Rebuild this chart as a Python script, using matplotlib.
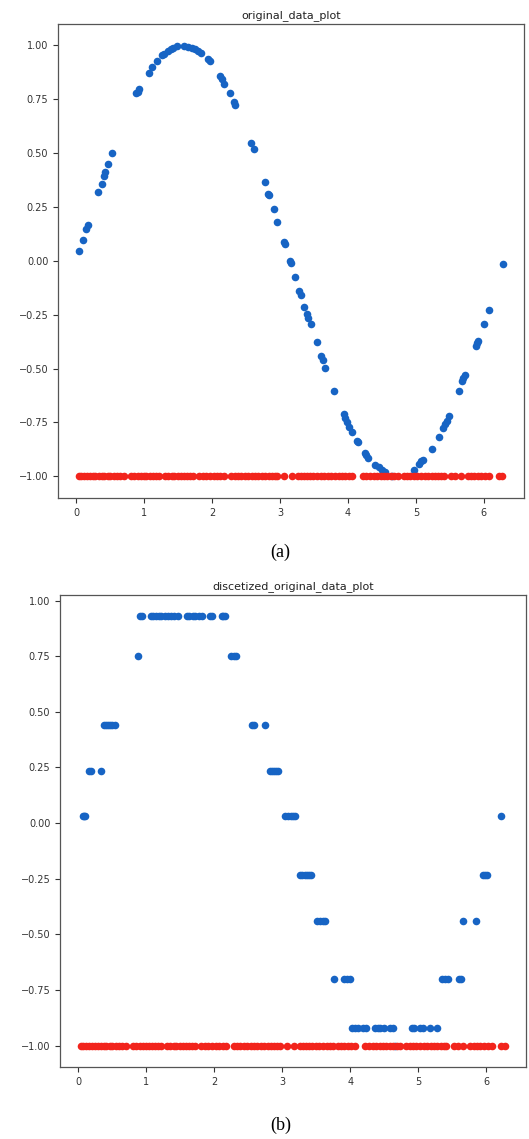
import matplotlib.pyplot as plt

# (a) original data: x and y
orig_x = [0.044, 0.094, 0.147, 0.172, 0.324, 0.374, 0.408, 0.427, 0.462, 0.53,
          0.879, 0.9, 0.928, 1.066, 1.115, 1.184, 1.267, 1.287, 1.355, 1.39,
          1.42, 1.483, 1.58, 1.65, 1.70, 1.75, 1.79, 1.835, 1.94, 1.97,
          2.12, 2.145, 2.18, 2.26, 2.32, 2.34, 2.573, 2.608, 2.77, 2.82,
          2.84, 2.907, 2.96, 3.06, 3.07, 3.15, 3.155, 3.216, 3.284, 3.314,
          3.358, 3.39, 3.41, 3.45, 3.545, 3.60, 3.625, 3.66, 3.80, 3.94,
          3.96, 3.99, 4.02, 4.06, 4.134, 4.15, 4.257, 4.27, 4.30, 4.40,
          4.45, 4.50, 4.55, 4.655, 4.978, 5.05, 5.08, 5.11, 5.23, 5.34,
          5.405, 5.435, 5.46, 5.49, 5.636, 5.675, 5.695, 5.72, 5.88, 5.895,
          5.915, 6.0, 6.07, 6.28]
orig_y = [0.046, 0.094, 0.148, 0.165, 0.316, 0.355, 0.391, 0.408, 0.446, 0.50,
          0.774, 0.78, 0.797, 0.871, 0.896, 0.923, 0.951, 0.955, 0.973, 0.98,
          0.986, 0.994, 0.996, 0.99, 0.985, 0.978, 0.97, 0.962, 0.933, 0.923,
          0.854, 0.84, 0.82, 0.774, 0.735, 0.72, 0.543, 0.516, 0.363, 0.31,
          0.305, 0.237, 0.179, 0.085, 0.075, -0.002, -0.01, -0.076, -0.142, -0.158,
          -0.215, -0.246, -0.265, -0.296, -0.379, -0.44, -0.461, -0.498, -0.602, -0.712,
          -0.727, -0.75, -0.77, -0.796, -0.834, -0.84, -0.89, -0.9, -0.915, -0.945,
          -0.957, -0.968, -0.978, -1.0, -0.968, -0.94, -0.93, -0.925, -0.874, -0.817,
          -0.774, -0.757, -0.743, -0.72, -0.602, -0.56, -0.543, -0.53, -0.395, -0.384,
          -0.373, -0.296, -0.227, -0.018]

# red reference row at -1
red_x = [0.04, 0.07, 0.11, 0.15, 0.2, 0.24, 0.28, 0.33, 0.37, 0.41, 0.46, 0.5, 0.55, 0.6, 0.64, 0.7,
         0.8, 0.85, 0.9, 0.95, 0.99, 1.03, 1.08, 1.13, 1.17, 1.21,
         1.3, 1.35, 1.4, 1.44, 1.49, 1.54, 1.58, 1.63, 1.67, 1.72,
         1.8, 1.86, 1.91, 1.96, 2.02, 2.07, 2.12, 2.17,
         2.28, 2.33, 2.38, 2.43, 2.48, 2.53, 2.58, 2.63, 2.68, 2.73, 2.78, 2.83, 2.88, 2.92, 2.96,
         3.06, 3.17,
         3.26, 3.3, 3.35, 3.39, 3.44, 3.49, 3.54, 3.6, 3.65, 3.7, 3.75, 3.81, 3.86, 3.91, 3.96, 4.01, 4.06,
         4.22, 4.27, 4.33, 4.38, 4.43, 4.48, 4.53, 4.58, 4.63, 4.68, 4.73,
         4.82, 4.87, 4.92, 4.97, 5.02, 5.08, 5.13, 5.18, 5.23, 5.28, 5.33, 5.37, 5.41,
         5.52, 5.58, 5.66,
         5.76, 5.81, 5.86, 5.91, 5.96, 6.02, 6.08,
         6.22, 6.27]
red_y = [-1.0] * len(red_x)

# (b) discretized data
disc_x = [0.06, 0.08, 0.10, 0.15, 0.19, 0.33, 0.37, 0.40, 0.43, 0.46, 0.49, 0.53,
          0.88, 0.9, 0.93, 1.07, 1.1, 1.14, 1.18, 1.22, 1.27, 1.31, 1.36, 1.41, 1.46,
          1.59, 1.63, 1.68, 1.72, 1.77, 1.81, 1.93, 1.96, 2.11, 2.13, 2.16,
          2.25, 2.28, 2.31, 2.55, 2.58, 2.74, 2.81, 2.84, 2.88, 2.91, 2.94,
          3.04, 3.08, 3.12, 3.15, 3.19, 3.26, 3.29, 3.33, 3.36, 3.39, 3.42,
          3.51, 3.55, 3.59, 3.63, 3.76, 3.91, 3.95, 3.99,
          4.03, 4.07, 4.11, 4.19, 4.23, 4.36, 4.40, 4.44, 4.49, 4.58, 4.62, 4.65,
          4.91, 4.94, 5.02, 5.06, 5.17, 5.28, 5.35, 5.39, 5.43, 5.59, 5.63,
          5.66, 5.84, 5.95, 5.98, 6.01, 6.22]
disc_y = [0.03, 0.03, 0.03, 0.236, 0.236, 0.236, 0.442, 0.442, 0.442, 0.442, 0.442, 0.442,
          0.751, 0.929, 0.929, 0.929, 0.929, 0.929, 0.929, 0.929, 0.929, 0.929, 0.929, 0.929, 0.929,
          0.929, 0.929, 0.929, 0.929, 0.929, 0.929, 0.929, 0.929, 0.929, 0.929, 0.929,
          0.751, 0.751, 0.751, 0.442, 0.442, 0.442, 0.236, 0.236, 0.236, 0.236, 0.236,
          0.03, 0.03, 0.03, 0.03, 0.03, -0.232, -0.232, -0.232, -0.232, -0.232, -0.232,
          -0.441, -0.441, -0.441, -0.441, -0.70, -0.70, -0.70, -0.70,
          -0.921, -0.921, -0.921, -0.921, -0.921, -0.921, -0.921, -0.921, -0.921, -0.921, -0.921, -1.0,
          -0.921, -0.921, -0.921, -0.921, -0.921, -0.921, -0.70, -0.70, -0.70, -0.70, -0.70,
          -0.441, -0.441, -0.232, -0.232, -0.232, 0.03]

titles = ["original_data_plot", "discetized_original_data_plot"]
captions = ["(a)", "(b)"]

blue = "#1764c4"
red = "#f2241c"

W, H = 529, 1139
fig = plt.figure(figsize=(W / 100, H / 100), dpi=100)
fig.patch.set_facecolor("white")

boxes = [(58, 24, 524, 498), (60, 595, 526, 1067)]
datasets = [(orig_x, orig_y), (disc_x, disc_y)]
cap_y = [552, 1125]

for i in range(2):
    l, t, r, b = boxes[i]
    ax = fig.add_axes([l / W, 1 - b / H, (r - l) / W, (b - t) / H])
    x, y = datasets[i]
    ax.scatter(x, y, s=30, color=blue, linewidths=0)
    ax.scatter(red_x, red_y, s=30, color=red, linewidths=0)
    ax.set_yticks([-1.0, -0.75, -0.5, -0.25, 0.0, 0.25, 0.5, 0.75, 1.0])
    ax.set_title(titles[i], fontsize=8, color="#222222", pad=4)
    ax.tick_params(labelsize=7, colors="#333333", length=3.5, width=0.8)
    for sp in ax.spines.values():
        sp.set_color("#555555")
        sp.set_linewidth(0.9)
    fig.text(0.53, 1 - cap_y[i] / H, captions[i], fontsize=13,
             family="Liberation Serif", ha="center", va="center")

fig.savefig("out.png", dpi=100)
